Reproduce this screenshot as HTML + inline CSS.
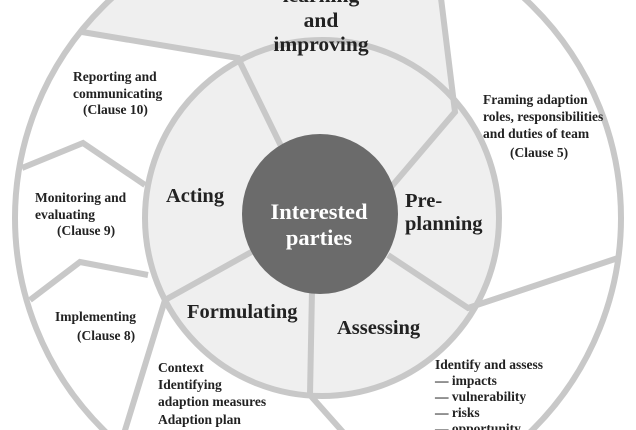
<!DOCTYPE html>
<html><head><meta charset="utf-8"><style>
html,body{margin:0;padding:0;background:#fff;overflow:hidden;width:636px;height:430px;}
svg{display:block;}
text{font-family:"Liberation Serif",serif;font-weight:bold;fill:#222;}
</style></head><body>
<svg width="636" height="430" viewBox="0 0 636 430" xmlns="http://www.w3.org/2000/svg">
<defs>
<clipPath id="outer"><ellipse cx="318" cy="218" rx="303" ry="300"/></clipPath>
</defs>
<rect width="636" height="430" fill="#fff"/>
<ellipse cx="318" cy="218" rx="303" ry="300" fill="#fff"/>
<polygon clip-path="url(#outer)" points="82,32 238,58 282,148 380,200 455,112 440,-10 60,-10" fill="#efefef"/>
<ellipse cx="322" cy="218" rx="177" ry="178" fill="#efefef" stroke="#c8c8c8" stroke-width="6"/>
<g stroke="#c8c8c8" stroke-width="6" fill="none" stroke-linejoin="miter">
<polyline points="82,32 238,58 282,148"/>
<polyline points="440,-10 455,112 380,200"/>
<polyline points="388,255 468,308 618,258"/>
<polyline points="312,290 310,395 350,440"/>
<polyline points="255,250 165,300 122,440"/>
<polyline points="22,168 83,143 145,185"/>
<polyline points="30,300 80,262 148,275"/>
</g>
<ellipse cx="318" cy="218" rx="303" ry="300" fill="none" stroke="#c8c8c8" stroke-width="6"/>
<ellipse cx="320" cy="214" rx="78" ry="80" fill="#6b6b6b"/>
<g font-size="21.5" text-anchor="middle">
<text x="321" y="2">learning</text>
<text x="321" y="27">and</text>
<text x="321" y="51">improving</text>
</g>
<g text-anchor="middle" font-size="22.5">
<text x="319" y="219" style="fill:#fff">Interested</text>
<text x="319" y="245" style="fill:#fff">parties</text>
</g>
<g font-size="20.5">
<text x="166" y="202">Acting</text>
<text x="405" y="207">Pre-</text>
<text x="405" y="230">planning</text>
<text x="187" y="318">Formulating</text>
<text x="337" y="334">Assessing</text>
</g>
<g font-size="13.5">
<text x="73" y="81">Reporting and</text>
<text x="73" y="98">communicating</text>
<text x="83" y="114">(Clause 10)</text>
<text x="483" y="104">Framing adaption</text>
<text x="483" y="121">roles, responsibilities</text>
<text x="483" y="138">and duties of team</text>
<text x="510" y="157">(Clause 5)</text>
<text x="35" y="202">Monitoring and</text>
<text x="35" y="219">evaluating</text>
<text x="57" y="235">(Clause 9)</text>
<text x="55" y="321">Implementing</text>
<text x="77" y="340">(Clause 8)</text>
<text x="158" y="372">Context</text>
<text x="158" y="389">Identifying</text>
<text x="158" y="406">adaption measures</text>
<text x="158" y="424">Adaption plan</text>
<text x="435" y="369">Identify and assess</text>
<text x="435" y="385">— impacts</text>
<text x="435" y="401">— vulnerability</text>
<text x="435" y="417">— risks</text>
<text x="435" y="433">— opportunity</text>
</g>
</svg>
</body></html>
